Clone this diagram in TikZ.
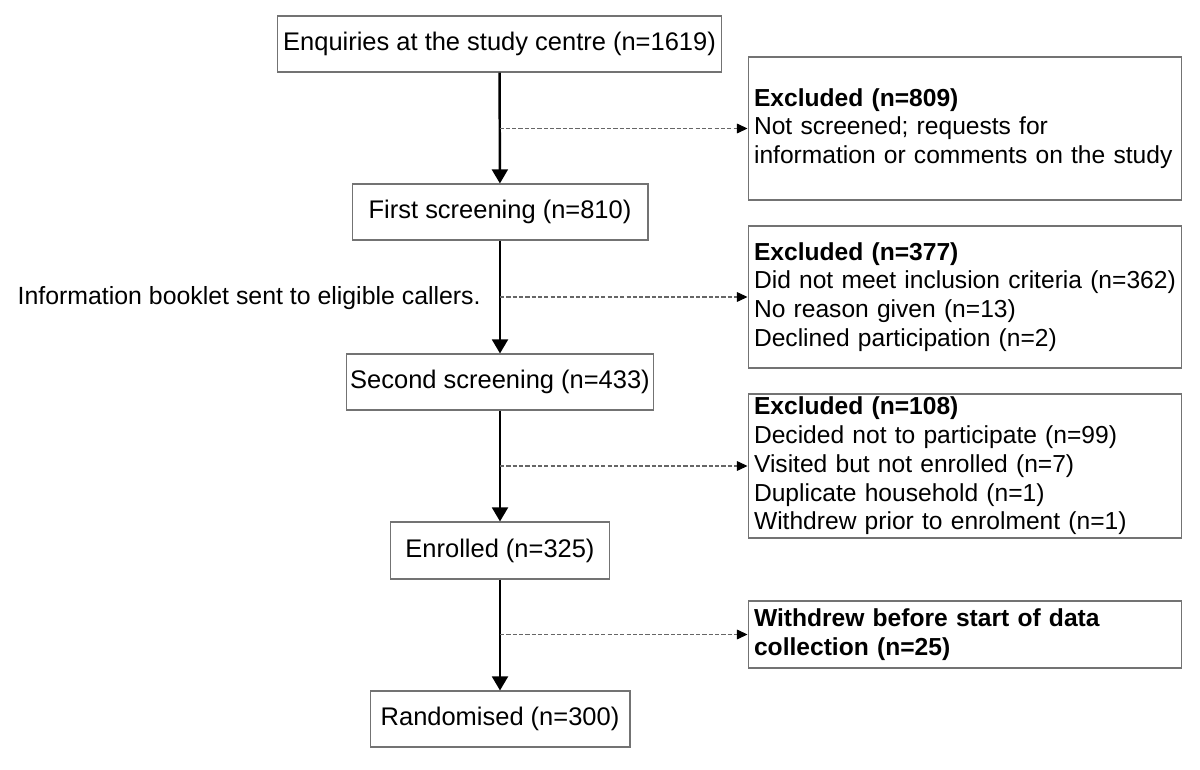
\documentclass[tikz,border=0pt]{standalone}
\usepackage{fontspec}
\setmainfont{Liberation Sans}
\usepackage{tikz}
\usetikzlibrary{arrows.meta}

\tikzset{
    mainbox/.style={draw=black!55, line width=0.6pt, minimum height=1.12cm, inner sep=0pt, font=\fontsize{14.5}{16.2}\selectfont},
    sidebox/.style={draw=black!55, line width=0.6pt, text width=8.44cm, inner xsep=0.12cm, inner ysep=0pt, align=left, font=\fontsize{14}{16.4}\selectfont},
    flow/.style={line width=1.4pt, -{Triangle[width=9pt,length=8pt]}},
    dashline/.style={draw=black!60, line width=0.6pt, dash pattern=on 2.4pt off 1.2pt, -{Triangle[width=5.5pt,length=6pt,black]}}
}

\begin{document}
\begin{tikzpicture}[x=0.02cm, y=-0.02cm]
    	\useasboundingbox (0, 0) rectangle (1200, 770);
    	% Main column:
    	\node[mainbox, minimum width=8.9cm] (enq) at (499.5, 44) {Enquiries at the study centre (n=1619)};
    	\node[mainbox, minimum width=5.92cm] (first) at (500, 212) {First screening (n=810)};
    	\node[mainbox, minimum width=6.14cm] (second) at (500, 382) {Second screening (n=433)};
    	\node[mainbox, minimum width=4.38cm, minimum height=1.14cm] (enrol) at (500, 550.5) {Enrolled (n=325)};
    	\node[mainbox, minimum width=5.2cm] (rand) at (500, 719) {Randomised (n=300)};
    	% Exclusion boxes:
    	\node[sidebox, minimum height=2.86cm] (exA) at (965, 128.5) {\textbf{Excluded (n=809)}\\Not screened; requests for\\information or comments on the study};
    	\node[sidebox, minimum height=2.84cm] (exB) at (965, 297) {\textbf{Excluded (n=377)}\\Did not meet inclusion criteria (n=362)\\No reason given (n=13)\\Declined participation (n=2)};
    	\node[sidebox, minimum height=2.88cm] (exC) at (965, 466) {\textbf{Excluded (n=108)}\\Decided not to participate (n=99)\\Visited but not enrolled (n=7)\\Duplicate household (n=1)\\Withdrew prior to enrolment (n=1)};
    	\node[sidebox, minimum height=1.34cm] (wd) at (965, 634.5) {\textbf{Withdrew before start of data}\\\textbf{collection (n=25)}};
    	\node[anchor=east, inner sep=0pt, font=\fontsize{14.15}{16.2}\selectfont] (note) at (481, 298) {Information booklet sent to eligible callers.};
    	% Arrows:
    	\draw[flow] (enq) -- (first);
    	\draw[flow] (first) -- (second);
    	\draw[flow] (second) -- (enrol);
    	\draw[flow] (enrol) -- (rand);
    	\draw[dashline] (enq.south |- exA.west) -- (exA.west);
    	\draw[dashline] (first.south |- exB.west) -- (exB.west);
    	\draw[dashline] (second.south |- exC.west) -- (exC.west);
    	\draw[dashline] (enrol.south |- wd.west) -- (wd.west);
    \end{tikzpicture}
\end{document}
